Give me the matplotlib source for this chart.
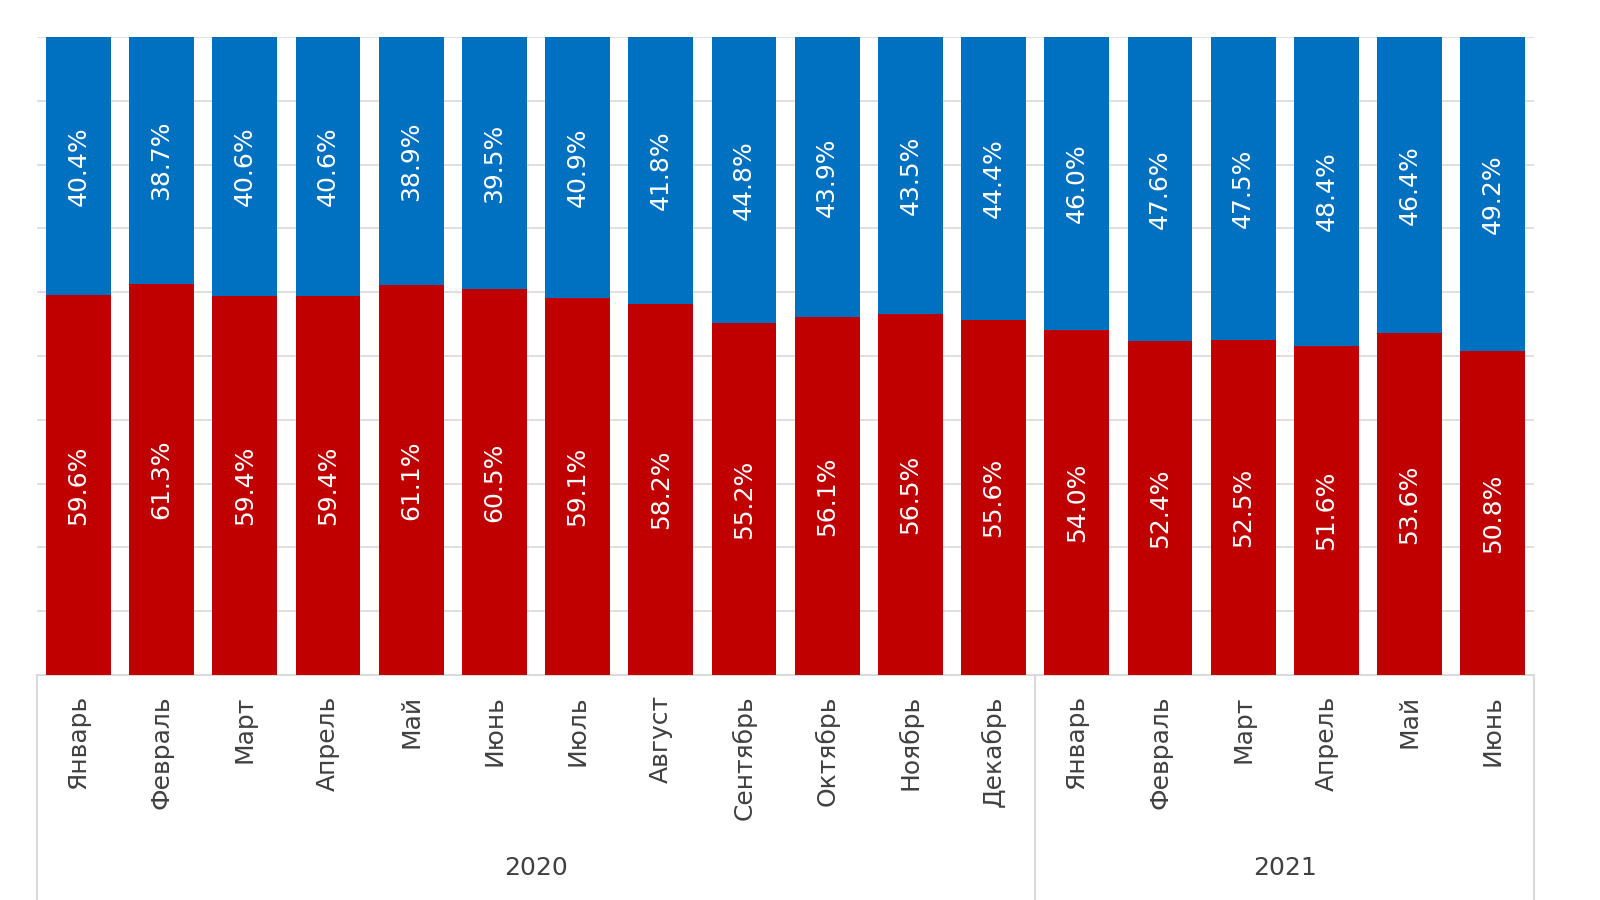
import numpy as np
import matplotlib.pyplot as plt
from matplotlib.transforms import blended_transform_factory

months = ["Январь", "Февраль", "Март", "Апрель", "Май", "Июнь", "Июль", "Август",
          "Сентябрь", "Октябрь", "Ноябрь", "Декабрь",
          "Январь", "Февраль", "Март", "Апрель", "Май", "Июнь"]
years = ["2020", "2021"]
year_counts = [12, 6]

red_vals = [59.6, 61.3, 59.4, 59.4, 61.1, 60.5, 59.1, 58.2, 55.2, 56.1, 56.5, 55.6,
            54.0, 52.4, 52.5, 51.6, 53.6, 50.8]
blue_vals = [40.4, 38.7, 40.6, 40.6, 38.9, 39.5, 40.9, 41.8, 44.8, 43.9, 43.5, 44.4,
             46.0, 47.6, 47.5, 48.4, 46.4, 49.2]

plt.rcParams['font.family'] = ['DejaVu Sans']

RED = "#C00000"
BLUE = "#0070C0"
GRID = "#D9D9D9"
TXT = "#404040"

fig = plt.figure(figsize=(16, 9), dpi=100)
ax = fig.add_axes([0.023, 0.25, 0.936, 0.709])

x = np.arange(len(months))
red = np.array(red_vals)
blue = np.array(blue_vals)
w = 0.78

ax.bar(x, red, w, color=RED, zorder=3)
ax.bar(x, blue, w, bottom=red, color=BLUE, zorder=3)

for i in range(len(x)):
    ax.text(x[i], red[i] / 2, "%.1f%%" % red[i], rotation=90, ha="center", va="center",
            color="white", fontsize=18, zorder=4)
    ax.text(x[i], red[i] + blue[i] / 2, "%.1f%%" % blue[i], rotation=90, ha="center",
            va="center", color="white", fontsize=18, zorder=4)

ax.set_xlim(-0.5, len(months) - 0.5)
ax.set_ylim(0, 100)
ax.set_yticks(np.arange(10, 101, 10))
ax.yaxis.grid(True, color=GRID, lw=1.2, zorder=0)
ax.tick_params(axis="y", left=False, labelleft=False)
ax.tick_params(axis="x", bottom=False, pad=11)
ax.set_xticks(x)
ax.set_xticklabels(months, rotation=90, va="top", color=TXT, fontsize=18)
for s in ["top", "left", "right"]:
    ax.spines[s].set_visible(False)
ax.spines["bottom"].set_color(GRID)
ax.spines["bottom"].set_linewidth(1.5)

trans = blended_transform_factory(ax.transData, ax.transAxes)
edges = [-0.5]
for c in year_counts:
    edges.append(edges[-1] + c)
for e in edges:
    ax.plot([e, e], [0, -0.4], color=GRID, lw=1.5, transform=trans, clip_on=False)
for i, yr in enumerate(years):
    ax.text((edges[i] + edges[i + 1]) / 2, -0.302, yr, transform=trans, ha="center",
            va="center", color=TXT, fontsize=18)

fig.savefig("out.png", dpi=100)
